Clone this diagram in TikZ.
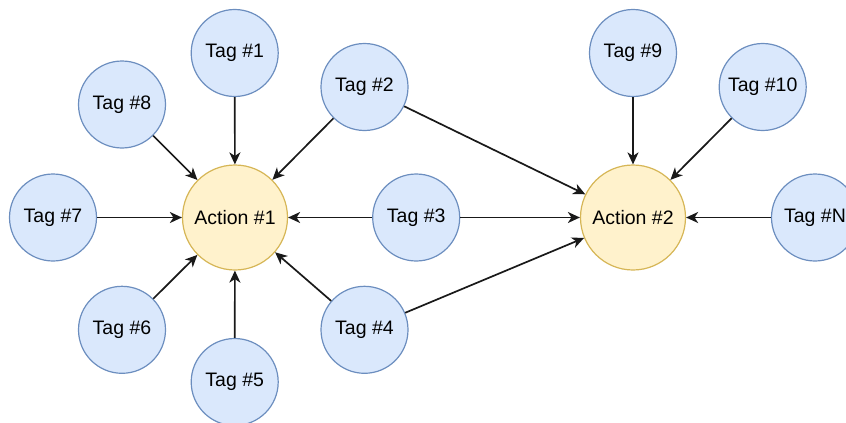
\documentclass[tikz,border=0pt]{standalone}
\usepackage{fontspec}
\setmainfont{Liberation Sans}
\usetikzlibrary{arrows.meta}
\definecolor{tagfill}{HTML}{DAE8FC}
\definecolor{tagdraw}{HTML}{6C8EBF}
\definecolor{actfill}{HTML}{FFF2CC}
\definecolor{actdraw}{HTML}{D6B656}
\begin{document}
\begin{tikzpicture}[x=1pt,y=-1pt,
  tag/.style={circle,draw=tagdraw,fill=tagfill,line width=1.2pt,minimum size=87pt,inner sep=0pt,font=\fontsize{19.5}{23}\selectfont},
  act/.style={circle,draw=actdraw,fill=actfill,line width=1.2pt,minimum size=105pt,inner sep=0pt,font=\fontsize{19.5}{23}\selectfont},
  link/.style={draw=black!90,line width=1.7pt,-{Stealth[length=12pt,width=11pt,inset=3.5pt]}}]
\useasboundingbox (0,0) rectangle (846,423);
\clip (0,0) rectangle (846,423);
\node[act] (a1) at (235,217.5) {Action \#1};
\node[act] (a2) at (633,217.5) {Action \#2};
\node[tag] (t1) at (234.7,53) {Tag \#1};
\node[tag] (t2) at (364.5,87) {Tag \#2};
\node[tag] (t3) at (416.2,217.5) {Tag \#3};
\node[tag] (t4) at (364.5,329.8) {Tag \#4};
\node[tag] (t5) at (234.7,382) {Tag \#5};
\node[tag] (t6) at (122,329.8) {Tag \#6};
\node[tag] (t7) at (53,217.5) {Tag \#7};
\node[tag] (t8) at (122,104.5) {Tag \#8};
\node[tag] (t9) at (633,53) {Tag \#9};
\node[tag] (t10) at (762.7,87) {Tag \#10};
\node[tag] (tn) at (815,217.5) {Tag \#N};
\draw[link] (t1) -- (a1);
\draw[link] (t2) -- (a1);
\draw[link] (t3) -- (a1);
\draw[link] (t4) -- (a1);
\draw[link] (t5) -- (a1);
\draw[link] (t6) -- (a1);
\draw[link] (t7) -- (a1);
\draw[link] (t8) -- (a1);
\draw[link] (t2) -- (a2);
\draw[link] (t3) -- (a2);
\draw[link] (t4) -- (a2);
\draw[link] (t9) -- (a2);
\draw[link] (t10) -- (a2);
\draw[link] (tn) -- (a2);
\end{tikzpicture}
\end{document}
